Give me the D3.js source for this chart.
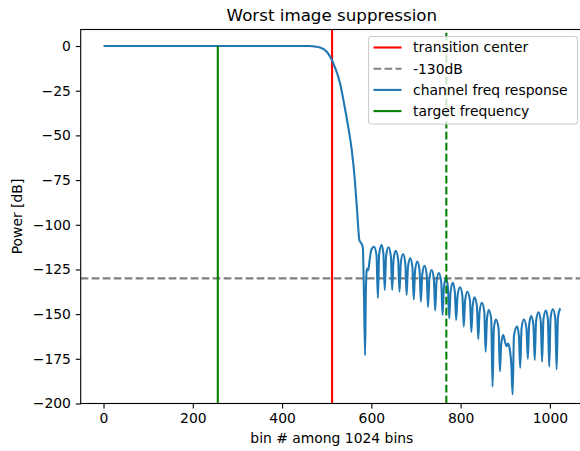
<!DOCTYPE html>
<html>
<head>
<meta charset="utf-8">
<script src="https://cdn.jsdelivr.net/npm/d3@7"></script>
<style>
  body { margin: 0; background: #fff; }
  svg { display: block; font-family: "DejaVu Sans", sans-serif; }
</style>
</head>
<body>
<svg id="chart"></svg>
<script>
// channel frequency response (bin index, dB)
const binIndex = [
  0, 460, 470, 485, 500, 509, 518, 530, 538, 548, 556, 563, 568, 571, 573, 575, 578, 581, 583.5, 586,
  587.5, 589.5, 591, 593, 596, 600, 606, 611.5,
  614.6, 617.5, 623, 627,
  630, 633, 638.5, 643.7,
  646.7, 649.7, 654.5, 660,
  663, 666, 671, 676,
  679, 682, 687, 692,
  695, 698, 703, 708,
  711, 714, 719, 724,
  727, 730, 735, 740,
  743, 746, 751, 756.5,
  759.5, 762.5, 767, 771.5,
  774.5, 777.5, 782.5, 787,
  790, 793, 798.5, 804,
  807, 810, 815, 821,
  824, 827, 831, 836.5,
  839.5, 842.5, 847.5, 853,
  856, 859, 863, 868.5,
  871.5, 874.5, 879, 885,
  888, 891, 895.5, 900, 903, 906, 910, 913.5,
  916.5, 919.5, 926.5, 930.5,
  933.5, 936.5, 941.5, 947.5,
  950.5, 953.5, 958, 963,
  966, 969, 974.5, 979.5,
  982.5, 985.5, 991, 995.5,
  998.5, 1001.5, 1006.5, 1012,
  1015, 1018, 1023
];
const powerDb = [
  0, 0, -0.2, -0.8, -3.2, -6.5, -11.6, -21, -31, -45, -58, -75, -91.7, -103, -108.5, -109.5, -110.5, -113, -140, -173,
  -140, -126, -124.5, -125.5, -120, -114, -112.3, -117,
  -141, -116.3, -111.3, -116.3,
  -136.5, -117.6, -112.6, -117.6,
  -136.5, -119.5, -114.5, -119.5,
  -137.4, -121.4, -116.4, -121.4,
  -139.3, -123.8, -118.8, -123.8,
  -141.7, -125.6, -120.6, -125.6,
  -143, -128, -123, -128,
  -146, -130.3, -125.3, -130.3,
  -148, -132, -127, -132,
  -150.5, -135, -130, -135,
  -152.4, -137.5, -132.5, -137.5,
  -153.3, -140, -135, -140,
  -157, -142.5, -137.5, -142.5,
  -160, -145.6, -140.6, -145.6,
  -164, -148.6, -143.6, -148.6,
  -171, -152.7, -147.7, -152.7,
  -190.6, -158, -153, -158,
  -182, -166.7, -161.7, -166, -168, -166.5, -169.5, -178,
  -195, -162, -157, -162,
  -180, -158, -153, -158,
  -175, -156, -151, -156,
  -175.7, -154, -149, -154,
  -176.6, -153, -148, -153,
  -179.4, -152.3, -147.3, -152.3,
  -181, -152, -146.7
];

const transitionCenter = 512;
const targetBin = 256;
const imageBin = 768;
const floorDb = -130;

const xTicks = [0, 200, 400, 600, 800, 1000];
const yTicks = [0, -25, -50, -75, -100, -125, -150, -175, -200];
const legendLabels = ["transition center", "-130dB", "channel freq response", "target frequency"];

const width = 580;
const height = 451;
const margin = { top: 29.5, right: -3, bottom: 47.5, left: 80.7 };
const fontPx = 13.9;

const svg = d3.select("#chart").attr("width", width).attr("height", height);

const x = d3.scaleLinear()
  .domain([-51.15, 1074.15])
  .range([margin.left, width - margin.right]);

const y = d3.scaleLinear()
  .domain([-200, 9.25])
  .range([height - margin.bottom, margin.top]);

const data = binIndex.map((b, i) => ({ bin: b, db: powerDb[i] }));

// Axes
const xAxis = svg.append("g")
  .attr("transform", `translate(0,${y(-200)})`)
  .call(d3.axisBottom(x).tickValues(xTicks).tickFormat(d3.format("d"))
    .tickSize(4.9).tickPadding(4.4).tickSizeOuter(0));

const yAxis = svg.append("g")
  .attr("transform", `translate(${margin.left},0)`)
  .call(d3.axisLeft(y).tickValues(yTicks).tickFormat(d3.format("d"))
    .tickSize(4.9).tickPadding(4.9).tickSizeOuter(0));

[xAxis, yAxis].forEach(g => {
  g.attr("font-family", null).attr("font-size", null);
  g.select(".domain").remove();
  g.selectAll(".tick line").attr("stroke", "#000").attr("stroke-width", 1.1);
  g.selectAll(".tick text").style("font-size", fontPx + "px").attr("fill", "#000");
});

// Lines
svg.append("line")
  .attr("x1", x(transitionCenter)).attr("x2", x(transitionCenter))
  .attr("y1", y.range()[0]).attr("y2", y.range()[1])
  .attr("stroke", "red").attr("stroke-width", 2.08);

svg.append("line")
  .attr("x1", x.range()[0]).attr("x2", x.range()[1])
  .attr("y1", y(floorDb)).attr("y2", y(floorDb))
  .attr("stroke", "gray").attr("stroke-width", 2.08)
  .attr("stroke-dasharray", "7.7,3.3");

const line = d3.line()
  .x(d => x(d.bin))
  .y(d => y(d.db))
  .curve(d3.curveMonotoneX);

svg.append("path")
  .datum(data)
  .attr("fill", "none")
  .attr("stroke", "#1f77b4")
  .attr("stroke-width", 2.08)
  .attr("stroke-linejoin", "round")
  .attr("d", line);

svg.append("line")
  .attr("x1", x(targetBin)).attr("x2", x(targetBin))
  .attr("y1", y(0)).attr("y2", y(-200))
  .attr("stroke", "green").attr("stroke-width", 2.08);

svg.append("line")
  .attr("x1", x(imageBin)).attr("x2", x(imageBin))
  .attr("y1", y.range()[0]).attr("y2", y.range()[1])
  .attr("stroke", "green").attr("stroke-width", 2.08)
  .attr("stroke-dasharray", "7.7,3.3");

// Frame
svg.append("rect")
  .attr("x", x.range()[0]).attr("y", y.range()[1])
  .attr("width", x.range()[1] - x.range()[0])
  .attr("height", y.range()[0] - y.range()[1])
  .attr("fill", "none").attr("stroke", "#000").attr("stroke-width", 1.1);

// Titles
const cx = (x.range()[0] + x.range()[1]) / 2;
svg.append("text")
  .attr("x", cx).attr("y", 20.5)
  .attr("text-anchor", "middle")
  .style("font-size", "16.7px")
  .text("Worst image suppression");

svg.append("text")
  .attr("x", cx).attr("y", 443)
  .attr("text-anchor", "middle")
  .style("font-size", fontPx + "px")
  .text("bin # among 1024 bins");

svg.append("text")
  .attr("transform", `translate(22,${(y.range()[0] + y.range()[1]) / 2}) rotate(-90)`)
  .attr("text-anchor", "middle")
  .style("font-size", fontPx + "px")
  .text("Power [dB]");

// Legend
const legendStyles = [
  { color: "red", dash: null },
  { color: "gray", dash: "7.7,3.3" },
  { color: "#1f77b4", dash: null },
  { color: "green", dash: null }
];

const legend = svg.append("g").attr("transform", "translate(368.5,36.5)");
legend.append("rect")
  .attr("width", 209).attr("height", 87.5)
  .attr("rx", 2.8)
  .attr("fill", "#fff").attr("fill-opacity", 0.8)
  .attr("stroke", "#ccc").attr("stroke-width", 1.1);

const rows = legend.selectAll("g.row")
  .data(legendLabels)
  .join("g")
  .attr("class", "row")
  .attr("transform", (d, i) => `translate(0,${11 + i * 21.2})`);

rows.append("line")
  .attr("x1", 5).attr("x2", 33)
  .attr("stroke", (d, i) => legendStyles[i].color)
  .attr("stroke-width", 2.08)
  .attr("stroke-dasharray", (d, i) => legendStyles[i].dash);

rows.append("text")
  .attr("x", 44.5)
  .attr("dy", "0.35em")
  .style("font-size", fontPx + "px")
  .text(d => d);
</script>
</body>
</html>
